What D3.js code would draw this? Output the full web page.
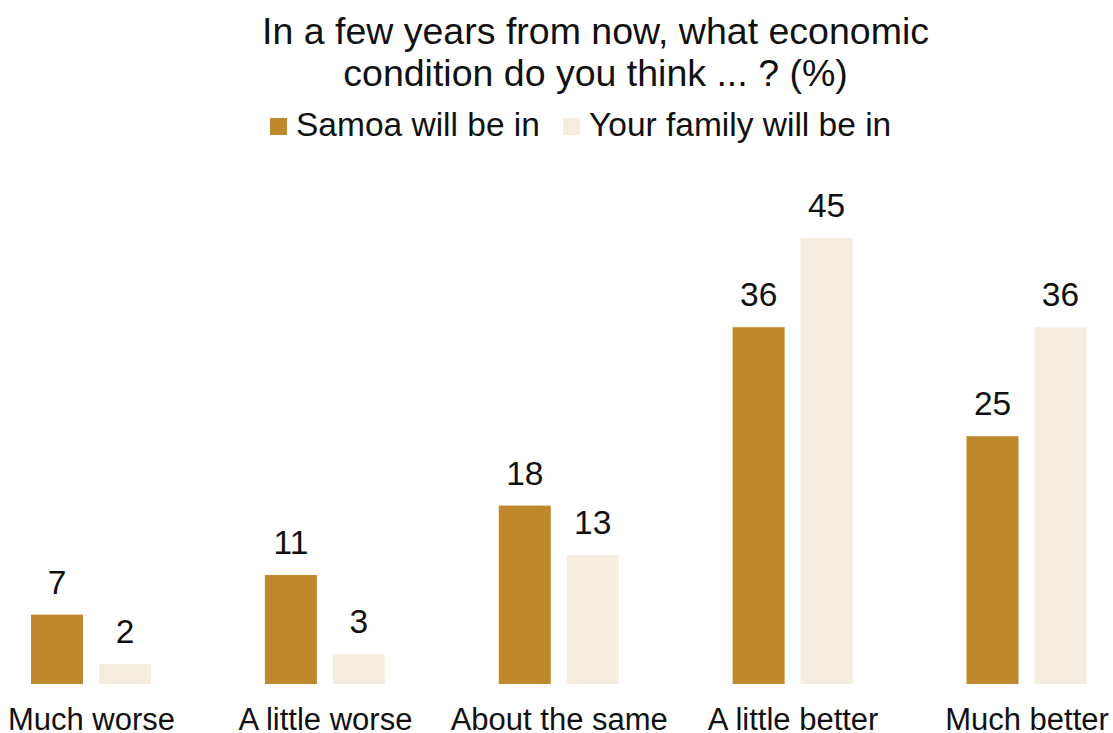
<!DOCTYPE html>
<html>
<head>
<meta charset="utf-8">
<script src="https://cdn.jsdelivr.net/npm/d3@7"></script>
<style>
  html, body { margin: 0; padding: 0; background: #fff; }
  svg { display: block; font-family: "Liberation Sans", Arial, sans-serif; }
</style>
</head>
<body>
<svg id="chart" width="1113" height="733"></svg>
<script>
// Outlook answers, in percent
const categories = ["Much worse", "A little worse", "About the same", "A little better", "Much better"];
const seriesNames = ["Samoa will be in", "Your family will be in"];
const samoaValues = [7, 11, 18, 36, 25];
const familyValues = [2, 3, 13, 45, 36];
const seriesColors = ["#BF882D", "#F5EDDF"];
const titleLines = ["In a few years from now, what economic", "condition do you think ... ? (%)"];

const rows = categories.map((c, i) => ({ category: c, values: [samoaValues[i], familyValues[i]] }));

const svg = d3.select("#chart");
const W = 1113;

// Group centres across the width
const x = d3.scalePoint().domain(categories).range([91, 1026.5]);
// Two bars inside each group
const xInner = d3.scaleBand().domain(seriesNames).range([-60, 60]).paddingInner(0.235);
const y = d3.scaleLinear().domain([0, 45]).range([684, 238]);

// Title
svg.append("g").selectAll("text")
  .data(titleLines)
  .join("text")
  .attr("x", 595.5)
  .attr("y", (d, i) => 44 + i * 42)
  .attr("text-anchor", "middle")
  .attr("font-size", 37.5)
  .attr("fill", "#111")
  .text(d => d);

// Legend
const legend = svg.append("g");
const legendX = [270, 563];
seriesNames.forEach((name, i) => {
  const g = legend.append("g").attr("transform", `translate(${legendX[i]},0)`);
  g.append("rect").attr("x", 0).attr("y", 118).attr("width", 17).attr("height", 17).attr("fill", seriesColors[i]);
  g.append("text").attr("x", 26).attr("y", 136).attr("font-size", 33.5).attr("fill", "#111").text(name);
});

// Bars
const groups = svg.append("g").selectAll("g")
  .data(rows)
  .join("g")
  .attr("transform", d => `translate(${x(d.category)},0)`);

groups.selectAll("rect")
  .data(d => d.values.map((v, i) => ({ series: seriesNames[i], value: v, idx: i })))
  .join("rect")
  .attr("x", d => xInner(d.series))
  .attr("width", xInner.bandwidth())
  .attr("y", d => y(d.value))
  .attr("height", d => y(0) - y(d.value))
  .attr("fill", d => seriesColors[d.idx]);

// Value labels above bars
groups.selectAll("text.val")
  .data(d => d.values.map((v, i) => ({ series: seriesNames[i], value: v })))
  .join("text")
  .attr("class", "val")
  .attr("x", d => xInner(d.series) + xInner.bandwidth() / 2)
  .attr("y", d => y(d.value) - 21)
  .attr("text-anchor", "middle")
  .attr("font-size", 33.5)
  .attr("fill", "#111")
  .text(d => d.value);

// Category axis labels
const axis = d3.axisBottom(x).tickSize(0).tickPadding(0);
const axisG = svg.append("g").attr("transform", "translate(0,684)").call(axis);
axisG.select(".domain").remove();
axisG.selectAll("text")
  .attr("font-family", "Liberation Sans, Arial, sans-serif")
  .attr("font-size", 31)
  .attr("fill", "#111")
  .attr("dy", null)
  .attr("y", 46);
</script>
</body>
</html>
